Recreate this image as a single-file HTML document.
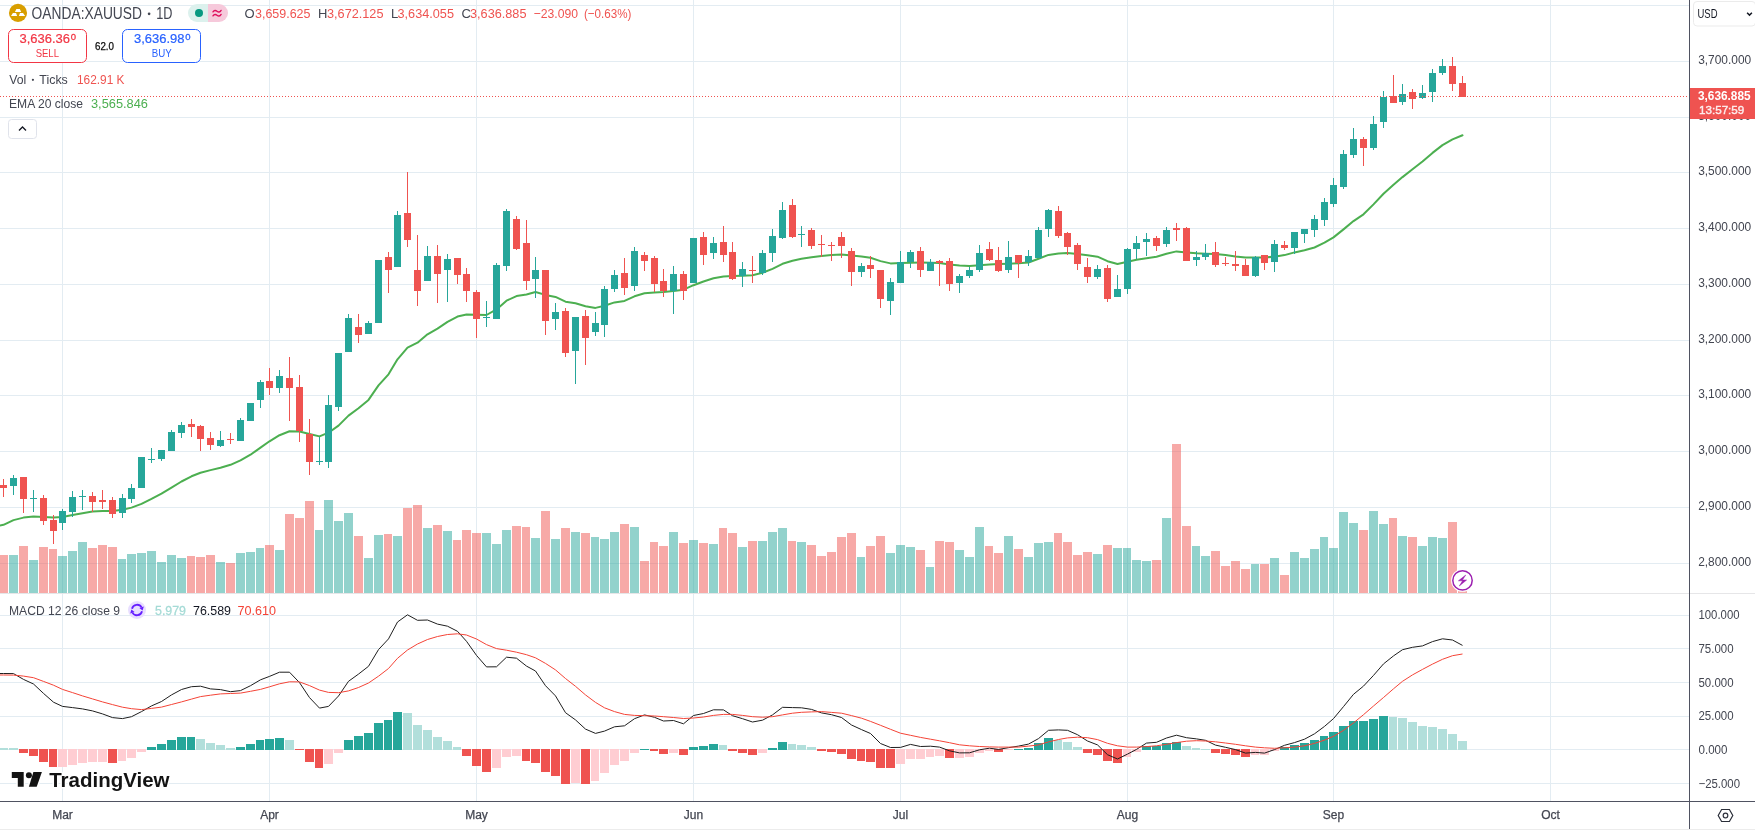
<!DOCTYPE html>
<html><head><meta charset="utf-8"><title>XAUUSD</title>
<style>html,body{margin:0;padding:0;background:#fff;width:1755px;height:830px;overflow:hidden}</style></head>
<body>
<svg width="1755" height="830" viewBox="0 0 1755 830" style="position:absolute;left:0;top:0;will-change:transform">
<g shape-rendering="crispEdges" fill="#e3ecf2">
<rect x="0" y="5" width="1689" height="1"/>
<rect x="0" y="61" width="1689" height="1"/>
<rect x="0" y="117" width="1689" height="1"/>
<rect x="0" y="172" width="1689" height="1"/>
<rect x="0" y="228" width="1689" height="1"/>
<rect x="0" y="284" width="1689" height="1"/>
<rect x="0" y="340" width="1689" height="1"/>
<rect x="0" y="395" width="1689" height="1"/>
<rect x="0" y="451" width="1689" height="1"/>
<rect x="0" y="507" width="1689" height="1"/>
<rect x="0" y="563" width="1689" height="1"/>
<rect x="0" y="615" width="1689" height="1"/>
<rect x="0" y="648" width="1689" height="1"/>
<rect x="0" y="682" width="1689" height="1"/>
<rect x="0" y="716" width="1689" height="1"/>
<rect x="0" y="749" width="1689" height="1"/>
<rect x="0" y="783" width="1689" height="1"/>
<rect x="62" y="0" width="1" height="593"/>
<rect x="62" y="594" width="1" height="207"/>
<rect x="269" y="0" width="1" height="593"/>
<rect x="269" y="594" width="1" height="207"/>
<rect x="476" y="0" width="1" height="593"/>
<rect x="476" y="594" width="1" height="207"/>
<rect x="693" y="0" width="1" height="593"/>
<rect x="693" y="594" width="1" height="207"/>
<rect x="900" y="0" width="1" height="593"/>
<rect x="900" y="594" width="1" height="207"/>
<rect x="1127" y="0" width="1" height="593"/>
<rect x="1127" y="594" width="1" height="207"/>
<rect x="1333" y="0" width="1" height="593"/>
<rect x="1333" y="594" width="1" height="207"/>
<rect x="1550" y="0" width="1" height="593"/>
<rect x="1550" y="594" width="1" height="207"/>
</g>
<g shape-rendering="crispEdges">
<rect x="-1" y="555" width="9" height="38" fill="#ef5350" fill-opacity="0.5"/>
<rect x="9" y="555" width="9" height="38" fill="#26a69a" fill-opacity="0.5"/>
<rect x="19" y="546" width="9" height="47" fill="#ef5350" fill-opacity="0.5"/>
<rect x="29" y="560" width="9" height="33" fill="#26a69a" fill-opacity="0.5"/>
<rect x="39" y="547" width="9" height="46" fill="#ef5350" fill-opacity="0.5"/>
<rect x="49" y="549" width="8" height="44" fill="#ef5350" fill-opacity="0.5"/>
<rect x="58" y="556" width="9" height="37" fill="#26a69a" fill-opacity="0.5"/>
<rect x="68" y="551" width="9" height="42" fill="#26a69a" fill-opacity="0.5"/>
<rect x="78" y="542" width="9" height="51" fill="#26a69a" fill-opacity="0.5"/>
<rect x="88" y="548" width="9" height="45" fill="#ef5350" fill-opacity="0.5"/>
<rect x="98" y="545" width="9" height="48" fill="#ef5350" fill-opacity="0.5"/>
<rect x="108" y="547" width="9" height="46" fill="#ef5350" fill-opacity="0.5"/>
<rect x="118" y="559" width="8" height="34" fill="#26a69a" fill-opacity="0.5"/>
<rect x="127" y="554" width="9" height="39" fill="#26a69a" fill-opacity="0.5"/>
<rect x="137" y="553" width="9" height="40" fill="#26a69a" fill-opacity="0.5"/>
<rect x="147" y="551" width="9" height="42" fill="#26a69a" fill-opacity="0.5"/>
<rect x="157" y="562" width="9" height="31" fill="#26a69a" fill-opacity="0.5"/>
<rect x="167" y="555" width="9" height="38" fill="#26a69a" fill-opacity="0.5"/>
<rect x="177" y="558" width="9" height="35" fill="#26a69a" fill-opacity="0.5"/>
<rect x="187" y="556" width="8" height="37" fill="#ef5350" fill-opacity="0.5"/>
<rect x="196" y="557" width="9" height="36" fill="#ef5350" fill-opacity="0.5"/>
<rect x="206" y="555" width="9" height="38" fill="#ef5350" fill-opacity="0.5"/>
<rect x="216" y="562" width="9" height="31" fill="#26a69a" fill-opacity="0.5"/>
<rect x="226" y="563" width="9" height="30" fill="#ef5350" fill-opacity="0.5"/>
<rect x="236" y="553" width="9" height="40" fill="#26a69a" fill-opacity="0.5"/>
<rect x="246" y="552" width="9" height="41" fill="#26a69a" fill-opacity="0.5"/>
<rect x="256" y="548" width="8" height="45" fill="#26a69a" fill-opacity="0.5"/>
<rect x="265" y="545" width="9" height="48" fill="#ef5350" fill-opacity="0.5"/>
<rect x="275" y="550" width="9" height="43" fill="#26a69a" fill-opacity="0.5"/>
<rect x="285" y="514" width="9" height="79" fill="#ef5350" fill-opacity="0.5"/>
<rect x="295" y="518" width="9" height="75" fill="#ef5350" fill-opacity="0.5"/>
<rect x="305" y="501" width="9" height="92" fill="#ef5350" fill-opacity="0.5"/>
<rect x="315" y="530" width="8" height="63" fill="#26a69a" fill-opacity="0.5"/>
<rect x="324" y="500" width="9" height="93" fill="#26a69a" fill-opacity="0.5"/>
<rect x="334" y="521" width="9" height="72" fill="#26a69a" fill-opacity="0.5"/>
<rect x="344" y="513" width="9" height="80" fill="#26a69a" fill-opacity="0.5"/>
<rect x="354" y="536" width="9" height="57" fill="#ef5350" fill-opacity="0.5"/>
<rect x="364" y="558" width="9" height="35" fill="#26a69a" fill-opacity="0.5"/>
<rect x="374" y="535" width="9" height="58" fill="#26a69a" fill-opacity="0.5"/>
<rect x="384" y="534" width="8" height="59" fill="#ef5350" fill-opacity="0.5"/>
<rect x="393" y="536" width="9" height="57" fill="#26a69a" fill-opacity="0.5"/>
<rect x="403" y="508" width="9" height="85" fill="#ef5350" fill-opacity="0.5"/>
<rect x="413" y="505" width="9" height="88" fill="#ef5350" fill-opacity="0.5"/>
<rect x="423" y="528" width="9" height="65" fill="#26a69a" fill-opacity="0.5"/>
<rect x="433" y="525" width="9" height="68" fill="#ef5350" fill-opacity="0.5"/>
<rect x="443" y="531" width="9" height="62" fill="#26a69a" fill-opacity="0.5"/>
<rect x="453" y="540" width="8" height="53" fill="#ef5350" fill-opacity="0.5"/>
<rect x="462" y="530" width="9" height="63" fill="#ef5350" fill-opacity="0.5"/>
<rect x="472" y="533" width="9" height="60" fill="#ef5350" fill-opacity="0.5"/>
<rect x="482" y="533" width="9" height="60" fill="#26a69a" fill-opacity="0.5"/>
<rect x="492" y="544" width="9" height="49" fill="#26a69a" fill-opacity="0.5"/>
<rect x="502" y="530" width="9" height="63" fill="#26a69a" fill-opacity="0.5"/>
<rect x="512" y="526" width="9" height="67" fill="#ef5350" fill-opacity="0.5"/>
<rect x="522" y="527" width="8" height="66" fill="#ef5350" fill-opacity="0.5"/>
<rect x="531" y="538" width="9" height="55" fill="#26a69a" fill-opacity="0.5"/>
<rect x="541" y="511" width="9" height="82" fill="#ef5350" fill-opacity="0.5"/>
<rect x="551" y="539" width="9" height="54" fill="#26a69a" fill-opacity="0.5"/>
<rect x="561" y="528" width="9" height="65" fill="#ef5350" fill-opacity="0.5"/>
<rect x="571" y="532" width="9" height="61" fill="#26a69a" fill-opacity="0.5"/>
<rect x="581" y="533" width="9" height="60" fill="#ef5350" fill-opacity="0.5"/>
<rect x="591" y="537" width="8" height="56" fill="#26a69a" fill-opacity="0.5"/>
<rect x="600" y="539" width="9" height="54" fill="#26a69a" fill-opacity="0.5"/>
<rect x="610" y="532" width="9" height="61" fill="#26a69a" fill-opacity="0.5"/>
<rect x="620" y="524" width="9" height="69" fill="#ef5350" fill-opacity="0.5"/>
<rect x="630" y="527" width="9" height="66" fill="#26a69a" fill-opacity="0.5"/>
<rect x="640" y="561" width="9" height="32" fill="#ef5350" fill-opacity="0.5"/>
<rect x="650" y="542" width="8" height="51" fill="#ef5350" fill-opacity="0.5"/>
<rect x="659" y="546" width="9" height="47" fill="#ef5350" fill-opacity="0.5"/>
<rect x="669" y="532" width="9" height="61" fill="#26a69a" fill-opacity="0.5"/>
<rect x="679" y="543" width="9" height="50" fill="#ef5350" fill-opacity="0.5"/>
<rect x="689" y="540" width="9" height="53" fill="#26a69a" fill-opacity="0.5"/>
<rect x="699" y="543" width="9" height="50" fill="#ef5350" fill-opacity="0.5"/>
<rect x="709" y="544" width="9" height="49" fill="#26a69a" fill-opacity="0.5"/>
<rect x="719" y="528" width="8" height="65" fill="#ef5350" fill-opacity="0.5"/>
<rect x="728" y="533" width="9" height="60" fill="#ef5350" fill-opacity="0.5"/>
<rect x="738" y="547" width="9" height="46" fill="#26a69a" fill-opacity="0.5"/>
<rect x="748" y="541" width="9" height="52" fill="#ef5350" fill-opacity="0.5"/>
<rect x="758" y="541" width="9" height="52" fill="#26a69a" fill-opacity="0.5"/>
<rect x="768" y="532" width="9" height="61" fill="#26a69a" fill-opacity="0.5"/>
<rect x="778" y="528" width="9" height="65" fill="#26a69a" fill-opacity="0.5"/>
<rect x="788" y="541" width="8" height="52" fill="#ef5350" fill-opacity="0.5"/>
<rect x="797" y="542" width="9" height="51" fill="#26a69a" fill-opacity="0.5"/>
<rect x="807" y="545" width="9" height="48" fill="#ef5350" fill-opacity="0.5"/>
<rect x="817" y="556" width="9" height="37" fill="#ef5350" fill-opacity="0.5"/>
<rect x="827" y="552" width="9" height="41" fill="#ef5350" fill-opacity="0.5"/>
<rect x="837" y="537" width="9" height="56" fill="#ef5350" fill-opacity="0.5"/>
<rect x="847" y="533" width="9" height="60" fill="#ef5350" fill-opacity="0.5"/>
<rect x="857" y="557" width="8" height="36" fill="#26a69a" fill-opacity="0.5"/>
<rect x="866" y="546" width="9" height="47" fill="#ef5350" fill-opacity="0.5"/>
<rect x="876" y="536" width="9" height="57" fill="#ef5350" fill-opacity="0.5"/>
<rect x="886" y="553" width="9" height="40" fill="#26a69a" fill-opacity="0.5"/>
<rect x="896" y="545" width="9" height="48" fill="#26a69a" fill-opacity="0.5"/>
<rect x="906" y="547" width="9" height="46" fill="#26a69a" fill-opacity="0.5"/>
<rect x="916" y="550" width="9" height="43" fill="#ef5350" fill-opacity="0.5"/>
<rect x="926" y="567" width="8" height="26" fill="#26a69a" fill-opacity="0.5"/>
<rect x="935" y="541" width="9" height="52" fill="#ef5350" fill-opacity="0.5"/>
<rect x="945" y="542" width="9" height="51" fill="#ef5350" fill-opacity="0.5"/>
<rect x="955" y="550" width="9" height="43" fill="#26a69a" fill-opacity="0.5"/>
<rect x="965" y="557" width="9" height="36" fill="#26a69a" fill-opacity="0.5"/>
<rect x="975" y="527" width="9" height="66" fill="#26a69a" fill-opacity="0.5"/>
<rect x="985" y="546" width="8" height="47" fill="#ef5350" fill-opacity="0.5"/>
<rect x="994" y="553" width="9" height="40" fill="#ef5350" fill-opacity="0.5"/>
<rect x="1004" y="536" width="9" height="57" fill="#26a69a" fill-opacity="0.5"/>
<rect x="1014" y="549" width="9" height="44" fill="#ef5350" fill-opacity="0.5"/>
<rect x="1024" y="557" width="9" height="36" fill="#26a69a" fill-opacity="0.5"/>
<rect x="1034" y="543" width="9" height="50" fill="#26a69a" fill-opacity="0.5"/>
<rect x="1044" y="542" width="9" height="51" fill="#26a69a" fill-opacity="0.5"/>
<rect x="1054" y="533" width="8" height="60" fill="#ef5350" fill-opacity="0.5"/>
<rect x="1063" y="542" width="9" height="51" fill="#ef5350" fill-opacity="0.5"/>
<rect x="1073" y="555" width="9" height="38" fill="#ef5350" fill-opacity="0.5"/>
<rect x="1083" y="552" width="9" height="41" fill="#ef5350" fill-opacity="0.5"/>
<rect x="1093" y="554" width="9" height="39" fill="#26a69a" fill-opacity="0.5"/>
<rect x="1103" y="545" width="9" height="48" fill="#ef5350" fill-opacity="0.5"/>
<rect x="1113" y="548" width="9" height="45" fill="#26a69a" fill-opacity="0.5"/>
<rect x="1123" y="548" width="8" height="45" fill="#26a69a" fill-opacity="0.5"/>
<rect x="1132" y="560" width="9" height="33" fill="#26a69a" fill-opacity="0.5"/>
<rect x="1142" y="561" width="9" height="32" fill="#26a69a" fill-opacity="0.5"/>
<rect x="1152" y="560" width="9" height="33" fill="#ef5350" fill-opacity="0.5"/>
<rect x="1162" y="518" width="9" height="75" fill="#26a69a" fill-opacity="0.5"/>
<rect x="1172" y="444" width="9" height="149" fill="#ef5350" fill-opacity="0.5"/>
<rect x="1182" y="526" width="9" height="67" fill="#ef5350" fill-opacity="0.5"/>
<rect x="1192" y="546" width="8" height="47" fill="#26a69a" fill-opacity="0.5"/>
<rect x="1201" y="556" width="9" height="37" fill="#26a69a" fill-opacity="0.5"/>
<rect x="1211" y="551" width="9" height="42" fill="#ef5350" fill-opacity="0.5"/>
<rect x="1221" y="566" width="9" height="27" fill="#ef5350" fill-opacity="0.5"/>
<rect x="1231" y="561" width="9" height="32" fill="#ef5350" fill-opacity="0.5"/>
<rect x="1241" y="569" width="9" height="24" fill="#ef5350" fill-opacity="0.5"/>
<rect x="1251" y="564" width="8" height="29" fill="#26a69a" fill-opacity="0.5"/>
<rect x="1260" y="564" width="9" height="29" fill="#ef5350" fill-opacity="0.5"/>
<rect x="1270" y="558" width="9" height="35" fill="#26a69a" fill-opacity="0.5"/>
<rect x="1280" y="575" width="9" height="18" fill="#ef5350" fill-opacity="0.5"/>
<rect x="1290" y="552" width="9" height="41" fill="#26a69a" fill-opacity="0.5"/>
<rect x="1300" y="558" width="9" height="35" fill="#26a69a" fill-opacity="0.5"/>
<rect x="1310" y="549" width="9" height="44" fill="#26a69a" fill-opacity="0.5"/>
<rect x="1320" y="537" width="8" height="56" fill="#26a69a" fill-opacity="0.5"/>
<rect x="1329" y="548" width="9" height="45" fill="#26a69a" fill-opacity="0.5"/>
<rect x="1339" y="512" width="9" height="81" fill="#26a69a" fill-opacity="0.5"/>
<rect x="1349" y="523" width="9" height="70" fill="#26a69a" fill-opacity="0.5"/>
<rect x="1359" y="530" width="9" height="63" fill="#ef5350" fill-opacity="0.5"/>
<rect x="1369" y="511" width="9" height="82" fill="#26a69a" fill-opacity="0.5"/>
<rect x="1379" y="524" width="9" height="69" fill="#26a69a" fill-opacity="0.5"/>
<rect x="1389" y="518" width="8" height="75" fill="#ef5350" fill-opacity="0.5"/>
<rect x="1398" y="536" width="9" height="57" fill="#26a69a" fill-opacity="0.5"/>
<rect x="1408" y="537" width="9" height="56" fill="#ef5350" fill-opacity="0.5"/>
<rect x="1418" y="546" width="9" height="47" fill="#26a69a" fill-opacity="0.5"/>
<rect x="1428" y="537" width="9" height="56" fill="#26a69a" fill-opacity="0.5"/>
<rect x="1438" y="538" width="9" height="55" fill="#26a69a" fill-opacity="0.5"/>
<rect x="1448" y="522" width="9" height="71" fill="#ef5350" fill-opacity="0.5"/>
<rect x="1458" y="591" width="9" height="2" fill="#ef5350" fill-opacity="0.5"/>
</g>
<polyline points="-6.5,527.0 3.5,524.8 13.5,520.1 23.5,517.6 33.5,516.6 43.5,517.1 53.5,517.6 62.5,516.9 72.5,514.9 82.5,513.2 92.5,511.6 102.5,511.0 112.5,511.0 122.5,509.7 131.5,507.6 141.5,503.9 151.5,498.9 161.5,493.6 171.5,487.7 181.5,481.5 191.5,476.3 200.5,472.8 210.5,470.1 220.5,467.8 230.5,464.8 240.5,460.3 250.5,454.7 260.5,447.6 269.5,441.3 279.5,435.2 289.5,431.3 299.5,431.5 309.5,434.0 319.5,436.4 328.5,432.7 338.5,425.6 348.5,415.6 358.5,408.3 368.5,399.9 378.5,385.4 388.5,374.3 397.5,359.3 407.5,347.7 417.5,342.7 427.5,334.3 437.5,328.6 447.5,321.9 457.5,316.6 466.5,314.6 476.5,314.8 486.5,315.0 496.5,309.4 506.5,300.7 516.5,296.1 526.5,294.5 535.5,292.0 545.5,294.9 555.5,296.9 565.5,301.7 575.5,303.3 585.5,306.3 595.5,307.9 604.5,305.8 614.5,302.4 624.5,300.9 634.5,296.3 644.5,293.3 654.5,292.6 663.5,292.0 673.5,291.1 683.5,289.7 693.5,285.2 703.5,281.5 713.5,278.3 723.5,276.4 732.5,276.0 742.5,275.7 752.5,275.2 762.5,272.8 772.5,268.9 782.5,263.8 792.5,260.7 801.5,258.7 811.5,257.2 821.5,256.1 831.5,255.0 841.5,254.4 851.5,255.5 861.5,256.5 870.5,257.7 880.5,261.1 890.5,263.4 900.5,263.0 910.5,262.7 920.5,262.6 930.5,262.7 939.5,263.0 949.5,264.4 959.5,265.5 969.5,266.0 979.5,265.3 989.5,264.5 998.5,264.1 1008.5,263.8 1018.5,263.3 1028.5,262.5 1038.5,258.7 1048.5,254.9 1058.5,253.4 1067.5,253.0 1077.5,254.1 1087.5,255.2 1097.5,256.7 1107.5,261.2 1117.5,264.0 1127.5,261.8 1136.5,259.8 1146.5,258.3 1156.5,256.7 1166.5,253.8 1176.5,251.4 1186.5,252.4 1196.5,253.3 1205.5,253.7 1215.5,254.1 1225.5,255.0 1235.5,256.6 1245.5,257.6 1255.5,257.5 1264.5,257.4 1274.5,256.7 1284.5,255.1 1294.5,252.4 1304.5,250.2 1314.5,247.5 1324.5,242.7 1333.5,237.4 1343.5,229.4 1353.5,221.1 1363.5,214.3 1373.5,204.4 1383.5,193.8 1393.5,184.7 1402.5,177.1 1412.5,169.3 1422.5,161.5 1432.5,152.9 1442.5,145.1 1452.5,139.4 1462.5,135.3" fill="none" stroke="#4caf50" stroke-width="2" stroke-linejoin="round" stroke-linecap="round"/>
<g shape-rendering="crispEdges">
<rect x="3" y="479" width="1" height="18" fill="#ef5350"/>
<rect x="0" y="485" width="7" height="3" fill="#ef5350"/>
<rect x="13" y="475" width="1" height="20" fill="#26a69a"/>
<rect x="10" y="478" width="7" height="8" fill="#26a69a"/>
<rect x="23" y="477" width="1" height="36" fill="#ef5350"/>
<rect x="20" y="477" width="7" height="22" fill="#ef5350"/>
<rect x="33" y="490" width="1" height="22" fill="#26a69a"/>
<rect x="30" y="498" width="7" height="1" fill="#26a69a"/>
<rect x="43" y="495" width="1" height="30" fill="#ef5350"/>
<rect x="40" y="498" width="7" height="23" fill="#ef5350"/>
<rect x="53" y="515" width="1" height="29" fill="#ef5350"/>
<rect x="50" y="520" width="7" height="11" fill="#ef5350"/>
<rect x="62" y="509" width="1" height="21" fill="#26a69a"/>
<rect x="59" y="511" width="7" height="12" fill="#26a69a"/>
<rect x="72" y="491" width="1" height="26" fill="#26a69a"/>
<rect x="69" y="497" width="7" height="15" fill="#26a69a"/>
<rect x="82" y="490" width="1" height="20" fill="#26a69a"/>
<rect x="79" y="496" width="7" height="1" fill="#26a69a"/>
<rect x="92" y="492" width="1" height="20" fill="#ef5350"/>
<rect x="89" y="496" width="7" height="6" fill="#ef5350"/>
<rect x="102" y="490" width="1" height="19" fill="#ef5350"/>
<rect x="99" y="500" width="7" height="2" fill="#ef5350"/>
<rect x="112" y="497" width="1" height="21" fill="#ef5350"/>
<rect x="109" y="500" width="7" height="14" fill="#ef5350"/>
<rect x="122" y="494" width="1" height="24" fill="#26a69a"/>
<rect x="119" y="498" width="7" height="15" fill="#26a69a"/>
<rect x="131" y="484" width="1" height="19" fill="#26a69a"/>
<rect x="128" y="488" width="7" height="11" fill="#26a69a"/>
<rect x="141" y="457" width="1" height="31" fill="#26a69a"/>
<rect x="138" y="457" width="7" height="31" fill="#26a69a"/>
<rect x="151" y="448" width="1" height="15" fill="#26a69a"/>
<rect x="148" y="459" width="7" height="1" fill="#26a69a"/>
<rect x="161" y="450" width="1" height="11" fill="#26a69a"/>
<rect x="158" y="450" width="7" height="9" fill="#26a69a"/>
<rect x="171" y="430" width="1" height="21" fill="#26a69a"/>
<rect x="168" y="432" width="7" height="19" fill="#26a69a"/>
<rect x="181" y="422" width="1" height="16" fill="#26a69a"/>
<rect x="178" y="425" width="7" height="8" fill="#26a69a"/>
<rect x="191" y="419" width="1" height="18" fill="#ef5350"/>
<rect x="188" y="424" width="7" height="3" fill="#ef5350"/>
<rect x="200" y="425" width="1" height="26" fill="#ef5350"/>
<rect x="197" y="426" width="7" height="13" fill="#ef5350"/>
<rect x="210" y="432" width="1" height="18" fill="#ef5350"/>
<rect x="207" y="438" width="7" height="7" fill="#ef5350"/>
<rect x="220" y="431" width="1" height="16" fill="#26a69a"/>
<rect x="217" y="440" width="7" height="6" fill="#26a69a"/>
<rect x="230" y="433" width="1" height="11" fill="#ef5350"/>
<rect x="227" y="439" width="7" height="1" fill="#ef5350"/>
<rect x="240" y="418" width="1" height="23" fill="#26a69a"/>
<rect x="237" y="420" width="7" height="21" fill="#26a69a"/>
<rect x="250" y="403" width="1" height="18" fill="#26a69a"/>
<rect x="247" y="403" width="7" height="18" fill="#26a69a"/>
<rect x="260" y="380" width="1" height="28" fill="#26a69a"/>
<rect x="257" y="382" width="7" height="18" fill="#26a69a"/>
<rect x="269" y="368" width="1" height="27" fill="#ef5350"/>
<rect x="266" y="381" width="7" height="7" fill="#ef5350"/>
<rect x="279" y="370" width="1" height="23" fill="#26a69a"/>
<rect x="276" y="376" width="7" height="12" fill="#26a69a"/>
<rect x="289" y="357" width="1" height="64" fill="#ef5350"/>
<rect x="286" y="378" width="7" height="10" fill="#ef5350"/>
<rect x="299" y="375" width="1" height="67" fill="#ef5350"/>
<rect x="296" y="387" width="7" height="44" fill="#ef5350"/>
<rect x="309" y="419" width="1" height="56" fill="#ef5350"/>
<rect x="306" y="434" width="7" height="28" fill="#ef5350"/>
<rect x="319" y="437" width="1" height="28" fill="#26a69a"/>
<rect x="316" y="461" width="7" height="1" fill="#26a69a"/>
<rect x="328" y="395" width="1" height="73" fill="#26a69a"/>
<rect x="325" y="405" width="7" height="57" fill="#26a69a"/>
<rect x="338" y="353" width="1" height="58" fill="#26a69a"/>
<rect x="335" y="353" width="7" height="54" fill="#26a69a"/>
<rect x="348" y="314" width="1" height="38" fill="#26a69a"/>
<rect x="345" y="318" width="7" height="34" fill="#26a69a"/>
<rect x="358" y="314" width="1" height="29" fill="#ef5350"/>
<rect x="355" y="327" width="7" height="8" fill="#ef5350"/>
<rect x="368" y="321" width="1" height="13" fill="#26a69a"/>
<rect x="365" y="323" width="7" height="11" fill="#26a69a"/>
<rect x="378" y="260" width="1" height="63" fill="#26a69a"/>
<rect x="375" y="260" width="7" height="63" fill="#26a69a"/>
<rect x="388" y="252" width="1" height="41" fill="#ef5350"/>
<rect x="385" y="257" width="7" height="13" fill="#ef5350"/>
<rect x="397" y="211" width="1" height="56" fill="#26a69a"/>
<rect x="394" y="215" width="7" height="52" fill="#26a69a"/>
<rect x="407" y="172" width="1" height="75" fill="#ef5350"/>
<rect x="404" y="213" width="7" height="27" fill="#ef5350"/>
<rect x="417" y="235" width="1" height="71" fill="#ef5350"/>
<rect x="414" y="270" width="7" height="21" fill="#ef5350"/>
<rect x="427" y="246" width="1" height="35" fill="#26a69a"/>
<rect x="424" y="256" width="7" height="25" fill="#26a69a"/>
<rect x="437" y="245" width="1" height="58" fill="#ef5350"/>
<rect x="434" y="256" width="7" height="18" fill="#ef5350"/>
<rect x="447" y="254" width="1" height="48" fill="#26a69a"/>
<rect x="444" y="259" width="7" height="11" fill="#26a69a"/>
<rect x="457" y="258" width="1" height="26" fill="#ef5350"/>
<rect x="454" y="258" width="7" height="17" fill="#ef5350"/>
<rect x="466" y="268" width="1" height="34" fill="#ef5350"/>
<rect x="463" y="274" width="7" height="17" fill="#ef5350"/>
<rect x="476" y="290" width="1" height="48" fill="#ef5350"/>
<rect x="473" y="292" width="7" height="27" fill="#ef5350"/>
<rect x="486" y="301" width="1" height="26" fill="#26a69a"/>
<rect x="483" y="317" width="7" height="1" fill="#26a69a"/>
<rect x="496" y="263" width="1" height="56" fill="#26a69a"/>
<rect x="493" y="265" width="7" height="54" fill="#26a69a"/>
<rect x="506" y="209" width="1" height="62" fill="#26a69a"/>
<rect x="503" y="211" width="7" height="55" fill="#26a69a"/>
<rect x="516" y="216" width="1" height="34" fill="#ef5350"/>
<rect x="513" y="219" width="7" height="30" fill="#ef5350"/>
<rect x="526" y="220" width="1" height="70" fill="#ef5350"/>
<rect x="523" y="243" width="7" height="38" fill="#ef5350"/>
<rect x="535" y="257" width="1" height="41" fill="#26a69a"/>
<rect x="532" y="270" width="7" height="9" fill="#26a69a"/>
<rect x="545" y="270" width="1" height="65" fill="#ef5350"/>
<rect x="542" y="270" width="7" height="51" fill="#ef5350"/>
<rect x="555" y="303" width="1" height="27" fill="#26a69a"/>
<rect x="552" y="312" width="7" height="7" fill="#26a69a"/>
<rect x="565" y="308" width="1" height="49" fill="#ef5350"/>
<rect x="562" y="311" width="7" height="42" fill="#ef5350"/>
<rect x="575" y="317" width="1" height="67" fill="#26a69a"/>
<rect x="572" y="317" width="7" height="34" fill="#26a69a"/>
<rect x="585" y="310" width="1" height="55" fill="#ef5350"/>
<rect x="582" y="316" width="7" height="22" fill="#ef5350"/>
<rect x="595" y="312" width="1" height="24" fill="#26a69a"/>
<rect x="592" y="323" width="7" height="9" fill="#26a69a"/>
<rect x="604" y="286" width="1" height="51" fill="#26a69a"/>
<rect x="601" y="289" width="7" height="36" fill="#26a69a"/>
<rect x="614" y="270" width="1" height="22" fill="#26a69a"/>
<rect x="611" y="275" width="7" height="14" fill="#26a69a"/>
<rect x="624" y="258" width="1" height="37" fill="#ef5350"/>
<rect x="621" y="273" width="7" height="15" fill="#ef5350"/>
<rect x="634" y="247" width="1" height="44" fill="#26a69a"/>
<rect x="631" y="251" width="7" height="35" fill="#26a69a"/>
<rect x="644" y="252" width="1" height="19" fill="#ef5350"/>
<rect x="641" y="255" width="7" height="6" fill="#ef5350"/>
<rect x="654" y="256" width="1" height="36" fill="#ef5350"/>
<rect x="651" y="258" width="7" height="26" fill="#ef5350"/>
<rect x="663" y="269" width="1" height="28" fill="#ef5350"/>
<rect x="660" y="281" width="7" height="10" fill="#ef5350"/>
<rect x="673" y="266" width="1" height="48" fill="#26a69a"/>
<rect x="670" y="274" width="7" height="17" fill="#26a69a"/>
<rect x="683" y="271" width="1" height="29" fill="#ef5350"/>
<rect x="680" y="274" width="7" height="17" fill="#ef5350"/>
<rect x="693" y="238" width="1" height="45" fill="#26a69a"/>
<rect x="690" y="238" width="7" height="45" fill="#26a69a"/>
<rect x="703" y="232" width="1" height="33" fill="#ef5350"/>
<rect x="700" y="237" width="7" height="18" fill="#ef5350"/>
<rect x="713" y="237" width="1" height="22" fill="#26a69a"/>
<rect x="710" y="243" width="7" height="10" fill="#26a69a"/>
<rect x="723" y="226" width="1" height="36" fill="#ef5350"/>
<rect x="720" y="242" width="7" height="13" fill="#ef5350"/>
<rect x="732" y="242" width="1" height="38" fill="#ef5350"/>
<rect x="729" y="252" width="7" height="27" fill="#ef5350"/>
<rect x="742" y="262" width="1" height="25" fill="#26a69a"/>
<rect x="739" y="269" width="7" height="7" fill="#26a69a"/>
<rect x="752" y="256" width="1" height="27" fill="#ef5350"/>
<rect x="749" y="270" width="7" height="1" fill="#ef5350"/>
<rect x="762" y="250" width="1" height="25" fill="#26a69a"/>
<rect x="759" y="253" width="7" height="20" fill="#26a69a"/>
<rect x="772" y="229" width="1" height="33" fill="#26a69a"/>
<rect x="769" y="236" width="7" height="17" fill="#26a69a"/>
<rect x="782" y="202" width="1" height="37" fill="#26a69a"/>
<rect x="779" y="210" width="7" height="28" fill="#26a69a"/>
<rect x="792" y="199" width="1" height="39" fill="#ef5350"/>
<rect x="789" y="205" width="7" height="32" fill="#ef5350"/>
<rect x="801" y="226" width="1" height="21" fill="#26a69a"/>
<rect x="798" y="234" width="7" height="1" fill="#26a69a"/>
<rect x="811" y="228" width="1" height="21" fill="#ef5350"/>
<rect x="808" y="230" width="7" height="16" fill="#ef5350"/>
<rect x="821" y="235" width="1" height="22" fill="#ef5350"/>
<rect x="818" y="244" width="7" height="1" fill="#ef5350"/>
<rect x="831" y="242" width="1" height="19" fill="#ef5350"/>
<rect x="828" y="245" width="7" height="1" fill="#ef5350"/>
<rect x="841" y="232" width="1" height="26" fill="#ef5350"/>
<rect x="838" y="237" width="7" height="9" fill="#ef5350"/>
<rect x="851" y="248" width="1" height="38" fill="#ef5350"/>
<rect x="848" y="251" width="7" height="21" fill="#ef5350"/>
<rect x="861" y="263" width="1" height="14" fill="#26a69a"/>
<rect x="858" y="266" width="7" height="6" fill="#26a69a"/>
<rect x="870" y="256" width="1" height="22" fill="#ef5350"/>
<rect x="867" y="265" width="7" height="4" fill="#ef5350"/>
<rect x="880" y="270" width="1" height="38" fill="#ef5350"/>
<rect x="877" y="270" width="7" height="29" fill="#ef5350"/>
<rect x="890" y="278" width="1" height="37" fill="#26a69a"/>
<rect x="887" y="282" width="7" height="19" fill="#26a69a"/>
<rect x="900" y="251" width="1" height="32" fill="#26a69a"/>
<rect x="897" y="262" width="7" height="21" fill="#26a69a"/>
<rect x="910" y="250" width="1" height="18" fill="#26a69a"/>
<rect x="907" y="252" width="7" height="10" fill="#26a69a"/>
<rect x="920" y="247" width="1" height="30" fill="#ef5350"/>
<rect x="917" y="251" width="7" height="19" fill="#ef5350"/>
<rect x="930" y="259" width="1" height="12" fill="#26a69a"/>
<rect x="927" y="262" width="7" height="9" fill="#26a69a"/>
<rect x="939" y="260" width="1" height="26" fill="#ef5350"/>
<rect x="936" y="261" width="7" height="2" fill="#ef5350"/>
<rect x="949" y="258" width="1" height="33" fill="#ef5350"/>
<rect x="946" y="261" width="7" height="23" fill="#ef5350"/>
<rect x="959" y="274" width="1" height="19" fill="#26a69a"/>
<rect x="956" y="276" width="7" height="7" fill="#26a69a"/>
<rect x="969" y="267" width="1" height="11" fill="#26a69a"/>
<rect x="966" y="270" width="7" height="6" fill="#26a69a"/>
<rect x="979" y="245" width="1" height="27" fill="#26a69a"/>
<rect x="976" y="253" width="7" height="17" fill="#26a69a"/>
<rect x="989" y="242" width="1" height="19" fill="#ef5350"/>
<rect x="986" y="249" width="7" height="11" fill="#ef5350"/>
<rect x="998" y="247" width="1" height="25" fill="#ef5350"/>
<rect x="995" y="260" width="7" height="11" fill="#ef5350"/>
<rect x="1008" y="241" width="1" height="32" fill="#26a69a"/>
<rect x="1005" y="257" width="7" height="13" fill="#26a69a"/>
<rect x="1018" y="255" width="1" height="23" fill="#ef5350"/>
<rect x="1015" y="255" width="7" height="8" fill="#ef5350"/>
<rect x="1028" y="250" width="1" height="16" fill="#26a69a"/>
<rect x="1025" y="256" width="7" height="6" fill="#26a69a"/>
<rect x="1038" y="227" width="1" height="31" fill="#26a69a"/>
<rect x="1035" y="230" width="7" height="28" fill="#26a69a"/>
<rect x="1048" y="209" width="1" height="28" fill="#26a69a"/>
<rect x="1045" y="210" width="7" height="19" fill="#26a69a"/>
<rect x="1058" y="206" width="1" height="32" fill="#ef5350"/>
<rect x="1055" y="211" width="7" height="25" fill="#ef5350"/>
<rect x="1067" y="232" width="1" height="23" fill="#ef5350"/>
<rect x="1064" y="233" width="7" height="14" fill="#ef5350"/>
<rect x="1077" y="243" width="1" height="27" fill="#ef5350"/>
<rect x="1074" y="245" width="7" height="19" fill="#ef5350"/>
<rect x="1087" y="258" width="1" height="25" fill="#ef5350"/>
<rect x="1084" y="267" width="7" height="10" fill="#ef5350"/>
<rect x="1097" y="265" width="1" height="14" fill="#26a69a"/>
<rect x="1094" y="269" width="7" height="8" fill="#26a69a"/>
<rect x="1107" y="265" width="1" height="37" fill="#ef5350"/>
<rect x="1104" y="268" width="7" height="31" fill="#ef5350"/>
<rect x="1117" y="275" width="1" height="22" fill="#26a69a"/>
<rect x="1114" y="289" width="7" height="8" fill="#26a69a"/>
<rect x="1127" y="248" width="1" height="46" fill="#26a69a"/>
<rect x="1124" y="249" width="7" height="40" fill="#26a69a"/>
<rect x="1136" y="236" width="1" height="23" fill="#26a69a"/>
<rect x="1133" y="243" width="7" height="6" fill="#26a69a"/>
<rect x="1146" y="233" width="1" height="23" fill="#26a69a"/>
<rect x="1143" y="239" width="7" height="3" fill="#26a69a"/>
<rect x="1156" y="236" width="1" height="15" fill="#ef5350"/>
<rect x="1153" y="238" width="7" height="8" fill="#ef5350"/>
<rect x="1166" y="227" width="1" height="20" fill="#26a69a"/>
<rect x="1163" y="230" width="7" height="14" fill="#26a69a"/>
<rect x="1176" y="223" width="1" height="18" fill="#ef5350"/>
<rect x="1173" y="228" width="7" height="2" fill="#ef5350"/>
<rect x="1186" y="227" width="1" height="34" fill="#ef5350"/>
<rect x="1183" y="228" width="7" height="33" fill="#ef5350"/>
<rect x="1196" y="251" width="1" height="15" fill="#26a69a"/>
<rect x="1193" y="257" width="7" height="3" fill="#26a69a"/>
<rect x="1205" y="244" width="1" height="16" fill="#26a69a"/>
<rect x="1202" y="253" width="7" height="4" fill="#26a69a"/>
<rect x="1215" y="242" width="1" height="25" fill="#ef5350"/>
<rect x="1212" y="252" width="7" height="13" fill="#ef5350"/>
<rect x="1225" y="257" width="1" height="9" fill="#ef5350"/>
<rect x="1222" y="263" width="7" height="1" fill="#ef5350"/>
<rect x="1235" y="251" width="1" height="20" fill="#ef5350"/>
<rect x="1232" y="264" width="7" height="2" fill="#ef5350"/>
<rect x="1245" y="259" width="1" height="17" fill="#ef5350"/>
<rect x="1242" y="265" width="7" height="11" fill="#ef5350"/>
<rect x="1255" y="256" width="1" height="21" fill="#26a69a"/>
<rect x="1252" y="257" width="7" height="19" fill="#26a69a"/>
<rect x="1264" y="255" width="1" height="15" fill="#ef5350"/>
<rect x="1261" y="255" width="7" height="8" fill="#ef5350"/>
<rect x="1274" y="240" width="1" height="32" fill="#26a69a"/>
<rect x="1271" y="244" width="7" height="18" fill="#26a69a"/>
<rect x="1284" y="241" width="1" height="9" fill="#ef5350"/>
<rect x="1281" y="245" width="7" height="3" fill="#ef5350"/>
<rect x="1294" y="232" width="1" height="22" fill="#26a69a"/>
<rect x="1291" y="232" width="7" height="16" fill="#26a69a"/>
<rect x="1304" y="229" width="1" height="14" fill="#26a69a"/>
<rect x="1301" y="229" width="7" height="5" fill="#26a69a"/>
<rect x="1314" y="215" width="1" height="22" fill="#26a69a"/>
<rect x="1311" y="219" width="7" height="11" fill="#26a69a"/>
<rect x="1324" y="198" width="1" height="28" fill="#26a69a"/>
<rect x="1321" y="202" width="7" height="18" fill="#26a69a"/>
<rect x="1333" y="178" width="1" height="29" fill="#26a69a"/>
<rect x="1330" y="185" width="7" height="19" fill="#26a69a"/>
<rect x="1343" y="150" width="1" height="39" fill="#26a69a"/>
<rect x="1340" y="154" width="7" height="33" fill="#26a69a"/>
<rect x="1353" y="128" width="1" height="30" fill="#26a69a"/>
<rect x="1350" y="139" width="7" height="16" fill="#26a69a"/>
<rect x="1363" y="137" width="1" height="29" fill="#ef5350"/>
<rect x="1360" y="139" width="7" height="9" fill="#ef5350"/>
<rect x="1373" y="116" width="1" height="34" fill="#26a69a"/>
<rect x="1370" y="124" width="7" height="24" fill="#26a69a"/>
<rect x="1383" y="91" width="1" height="37" fill="#26a69a"/>
<rect x="1380" y="97" width="7" height="25" fill="#26a69a"/>
<rect x="1393" y="75" width="1" height="28" fill="#ef5350"/>
<rect x="1390" y="96" width="7" height="7" fill="#ef5350"/>
<rect x="1402" y="84" width="1" height="21" fill="#26a69a"/>
<rect x="1399" y="94" width="7" height="8" fill="#26a69a"/>
<rect x="1412" y="89" width="1" height="20" fill="#ef5350"/>
<rect x="1409" y="92" width="7" height="7" fill="#ef5350"/>
<rect x="1422" y="85" width="1" height="14" fill="#26a69a"/>
<rect x="1419" y="93" width="7" height="5" fill="#26a69a"/>
<rect x="1432" y="69" width="1" height="33" fill="#26a69a"/>
<rect x="1429" y="73" width="7" height="19" fill="#26a69a"/>
<rect x="1442" y="59" width="1" height="16" fill="#26a69a"/>
<rect x="1439" y="66" width="7" height="7" fill="#26a69a"/>
<rect x="1452" y="57" width="1" height="34" fill="#ef5350"/>
<rect x="1449" y="66" width="7" height="18" fill="#ef5350"/>
<rect x="1462" y="76" width="1" height="21" fill="#ef5350"/>
<rect x="1459" y="83" width="7" height="14" fill="#ef5350"/>
</g>
<line x1="0" y1="96.5" x2="1689" y2="96.5" stroke="#ef5350" stroke-width="1" stroke-dasharray="1 2" shape-rendering="crispEdges"/>
<g shape-rendering="crispEdges">
<rect x="-1" y="748" width="9" height="2" fill="#b2dfdb"/>
<rect x="9" y="748" width="9" height="2" fill="#b2dfdb"/>
<rect x="19" y="749" width="9" height="4" fill="#ef5350"/>
<rect x="29" y="749" width="9" height="7" fill="#ef5350"/>
<rect x="39" y="749" width="9" height="13" fill="#ef5350"/>
<rect x="49" y="749" width="8" height="18" fill="#ef5350"/>
<rect x="58" y="749" width="9" height="18" fill="#ffcdd2"/>
<rect x="68" y="749" width="9" height="16" fill="#ffcdd2"/>
<rect x="78" y="749" width="9" height="14" fill="#ffcdd2"/>
<rect x="88" y="749" width="9" height="13" fill="#ffcdd2"/>
<rect x="98" y="749" width="9" height="13" fill="#ffcdd2"/>
<rect x="108" y="749" width="9" height="14" fill="#ef5350"/>
<rect x="118" y="749" width="8" height="12" fill="#ffcdd2"/>
<rect x="127" y="749" width="9" height="9" fill="#ffcdd2"/>
<rect x="137" y="749" width="9" height="3" fill="#ffcdd2"/>
<rect x="147" y="747" width="9" height="3" fill="#26a69a"/>
<rect x="157" y="744" width="9" height="6" fill="#26a69a"/>
<rect x="167" y="740" width="9" height="10" fill="#26a69a"/>
<rect x="177" y="737" width="9" height="13" fill="#26a69a"/>
<rect x="187" y="737" width="8" height="13" fill="#26a69a"/>
<rect x="196" y="739" width="9" height="11" fill="#b2dfdb"/>
<rect x="206" y="743" width="9" height="7" fill="#b2dfdb"/>
<rect x="216" y="745" width="9" height="5" fill="#b2dfdb"/>
<rect x="226" y="748" width="9" height="2" fill="#b2dfdb"/>
<rect x="236" y="747" width="9" height="3" fill="#26a69a"/>
<rect x="246" y="744" width="9" height="6" fill="#26a69a"/>
<rect x="256" y="740" width="8" height="10" fill="#26a69a"/>
<rect x="265" y="739" width="9" height="11" fill="#26a69a"/>
<rect x="275" y="738" width="9" height="12" fill="#26a69a"/>
<rect x="285" y="740" width="9" height="10" fill="#b2dfdb"/>
<rect x="295" y="749" width="9" height="1" fill="#ef5350"/>
<rect x="305" y="749" width="9" height="13" fill="#ef5350"/>
<rect x="315" y="749" width="8" height="19" fill="#ef5350"/>
<rect x="324" y="749" width="9" height="15" fill="#ffcdd2"/>
<rect x="334" y="749" width="9" height="4" fill="#ffcdd2"/>
<rect x="344" y="740" width="9" height="10" fill="#26a69a"/>
<rect x="354" y="736" width="9" height="14" fill="#26a69a"/>
<rect x="364" y="733" width="9" height="17" fill="#26a69a"/>
<rect x="374" y="723" width="9" height="27" fill="#26a69a"/>
<rect x="384" y="720" width="8" height="30" fill="#26a69a"/>
<rect x="393" y="712" width="9" height="38" fill="#26a69a"/>
<rect x="403" y="713" width="9" height="37" fill="#b2dfdb"/>
<rect x="413" y="725" width="9" height="25" fill="#b2dfdb"/>
<rect x="423" y="730" width="9" height="20" fill="#b2dfdb"/>
<rect x="433" y="737" width="9" height="13" fill="#b2dfdb"/>
<rect x="443" y="741" width="9" height="9" fill="#b2dfdb"/>
<rect x="453" y="747" width="8" height="3" fill="#b2dfdb"/>
<rect x="462" y="749" width="9" height="7" fill="#ef5350"/>
<rect x="472" y="749" width="9" height="17" fill="#ef5350"/>
<rect x="482" y="749" width="9" height="23" fill="#ef5350"/>
<rect x="492" y="749" width="9" height="19" fill="#ffcdd2"/>
<rect x="502" y="749" width="9" height="8" fill="#ffcdd2"/>
<rect x="512" y="749" width="9" height="7" fill="#ffcdd2"/>
<rect x="522" y="749" width="8" height="12" fill="#ef5350"/>
<rect x="531" y="749" width="9" height="14" fill="#ef5350"/>
<rect x="541" y="749" width="9" height="23" fill="#ef5350"/>
<rect x="551" y="749" width="9" height="27" fill="#ef5350"/>
<rect x="561" y="749" width="9" height="35" fill="#ef5350"/>
<rect x="571" y="749" width="9" height="34" fill="#ffcdd2"/>
<rect x="581" y="749" width="9" height="35" fill="#ef5350"/>
<rect x="591" y="749" width="8" height="32" fill="#ffcdd2"/>
<rect x="600" y="749" width="9" height="24" fill="#ffcdd2"/>
<rect x="610" y="749" width="9" height="16" fill="#ffcdd2"/>
<rect x="620" y="749" width="9" height="12" fill="#ffcdd2"/>
<rect x="630" y="749" width="9" height="4" fill="#ffcdd2"/>
<rect x="640" y="749" width="9" height="1" fill="#26a69a"/>
<rect x="650" y="749" width="8" height="2" fill="#ef5350"/>
<rect x="659" y="749" width="9" height="5" fill="#ef5350"/>
<rect x="669" y="749" width="9" height="4" fill="#ffcdd2"/>
<rect x="679" y="749" width="9" height="6" fill="#ef5350"/>
<rect x="689" y="747" width="9" height="3" fill="#26a69a"/>
<rect x="699" y="746" width="9" height="4" fill="#26a69a"/>
<rect x="709" y="744" width="9" height="6" fill="#26a69a"/>
<rect x="719" y="745" width="8" height="5" fill="#b2dfdb"/>
<rect x="728" y="749" width="9" height="2" fill="#ef5350"/>
<rect x="738" y="749" width="9" height="4" fill="#ef5350"/>
<rect x="748" y="749" width="9" height="6" fill="#ef5350"/>
<rect x="758" y="749" width="9" height="4" fill="#ffcdd2"/>
<rect x="768" y="748" width="9" height="2" fill="#26a69a"/>
<rect x="778" y="742" width="9" height="8" fill="#26a69a"/>
<rect x="788" y="744" width="8" height="6" fill="#b2dfdb"/>
<rect x="797" y="745" width="9" height="5" fill="#b2dfdb"/>
<rect x="807" y="747" width="9" height="3" fill="#b2dfdb"/>
<rect x="817" y="749" width="9" height="2" fill="#ef5350"/>
<rect x="827" y="749" width="9" height="3" fill="#ef5350"/>
<rect x="837" y="749" width="9" height="5" fill="#ef5350"/>
<rect x="847" y="749" width="9" height="10" fill="#ef5350"/>
<rect x="857" y="749" width="8" height="12" fill="#ef5350"/>
<rect x="866" y="749" width="9" height="13" fill="#ef5350"/>
<rect x="876" y="749" width="9" height="19" fill="#ef5350"/>
<rect x="886" y="749" width="9" height="19" fill="#ef5350"/>
<rect x="896" y="749" width="9" height="15" fill="#ffcdd2"/>
<rect x="906" y="749" width="9" height="10" fill="#ffcdd2"/>
<rect x="916" y="749" width="9" height="10" fill="#ffcdd2"/>
<rect x="926" y="749" width="8" height="8" fill="#ffcdd2"/>
<rect x="935" y="749" width="9" height="7" fill="#ffcdd2"/>
<rect x="945" y="749" width="9" height="9" fill="#ef5350"/>
<rect x="955" y="749" width="9" height="9" fill="#ffcdd2"/>
<rect x="965" y="749" width="9" height="8" fill="#ffcdd2"/>
<rect x="975" y="749" width="9" height="4" fill="#ffcdd2"/>
<rect x="985" y="749" width="8" height="2" fill="#ffcdd2"/>
<rect x="994" y="749" width="9" height="3" fill="#ef5350"/>
<rect x="1004" y="749" width="9" height="1" fill="#ffcdd2"/>
<rect x="1014" y="749" width="9" height="1" fill="#26a69a"/>
<rect x="1024" y="748" width="9" height="2" fill="#26a69a"/>
<rect x="1034" y="743" width="9" height="7" fill="#26a69a"/>
<rect x="1044" y="738" width="9" height="12" fill="#26a69a"/>
<rect x="1054" y="740" width="8" height="10" fill="#b2dfdb"/>
<rect x="1063" y="742" width="9" height="8" fill="#b2dfdb"/>
<rect x="1073" y="747" width="9" height="3" fill="#b2dfdb"/>
<rect x="1083" y="749" width="9" height="4" fill="#ef5350"/>
<rect x="1093" y="749" width="9" height="6" fill="#ef5350"/>
<rect x="1103" y="749" width="9" height="12" fill="#ef5350"/>
<rect x="1113" y="749" width="9" height="14" fill="#ef5350"/>
<rect x="1123" y="749" width="8" height="8" fill="#ffcdd2"/>
<rect x="1132" y="749" width="9" height="3" fill="#ffcdd2"/>
<rect x="1142" y="746" width="9" height="4" fill="#26a69a"/>
<rect x="1152" y="746" width="9" height="4" fill="#26a69a"/>
<rect x="1162" y="743" width="9" height="7" fill="#26a69a"/>
<rect x="1172" y="742" width="9" height="8" fill="#26a69a"/>
<rect x="1182" y="746" width="9" height="4" fill="#b2dfdb"/>
<rect x="1192" y="748" width="8" height="2" fill="#b2dfdb"/>
<rect x="1201" y="749" width="9" height="1" fill="#b2dfdb"/>
<rect x="1211" y="749" width="9" height="4" fill="#ef5350"/>
<rect x="1221" y="749" width="9" height="5" fill="#ef5350"/>
<rect x="1231" y="749" width="9" height="6" fill="#ef5350"/>
<rect x="1241" y="749" width="9" height="8" fill="#ef5350"/>
<rect x="1251" y="749" width="8" height="6" fill="#ffcdd2"/>
<rect x="1260" y="749" width="9" height="6" fill="#ffcdd2"/>
<rect x="1270" y="749" width="9" height="2" fill="#ffcdd2"/>
<rect x="1280" y="747" width="9" height="3" fill="#26a69a"/>
<rect x="1290" y="745" width="9" height="5" fill="#26a69a"/>
<rect x="1300" y="743" width="9" height="7" fill="#26a69a"/>
<rect x="1310" y="740" width="9" height="10" fill="#26a69a"/>
<rect x="1320" y="736" width="8" height="14" fill="#26a69a"/>
<rect x="1329" y="732" width="9" height="18" fill="#26a69a"/>
<rect x="1339" y="726" width="9" height="24" fill="#26a69a"/>
<rect x="1349" y="721" width="9" height="29" fill="#26a69a"/>
<rect x="1359" y="721" width="9" height="29" fill="#26a69a"/>
<rect x="1369" y="719" width="9" height="31" fill="#26a69a"/>
<rect x="1379" y="716" width="9" height="34" fill="#26a69a"/>
<rect x="1389" y="717" width="8" height="33" fill="#b2dfdb"/>
<rect x="1398" y="718" width="9" height="32" fill="#b2dfdb"/>
<rect x="1408" y="722" width="9" height="28" fill="#b2dfdb"/>
<rect x="1418" y="726" width="9" height="24" fill="#b2dfdb"/>
<rect x="1428" y="727" width="9" height="23" fill="#b2dfdb"/>
<rect x="1438" y="729" width="9" height="21" fill="#b2dfdb"/>
<rect x="1448" y="734" width="9" height="16" fill="#b2dfdb"/>
<rect x="1458" y="741" width="9" height="9" fill="#b2dfdb"/>
</g>
<polyline points="-6.0,673.5 3.5,673.5 13.5,673.6 23.5,679.4 33.5,684.0 43.5,693.4 53.5,702.2 62.5,706.4 72.5,707.6 82.5,708.9 92.5,710.9 102.5,713.9 112.5,717.6 122.5,718.6 131.5,716.7 141.5,711.6 151.5,705.9 161.5,701.5 171.5,694.9 181.5,689.5 191.5,686.7 200.5,686.2 210.5,688.9 220.5,689.6 230.5,691.7 240.5,690.6 250.5,685.7 260.5,679.8 269.5,676.4 279.5,672.2 289.5,672.2 299.5,682.6 309.5,697.6 319.5,708.1 328.5,706.4 338.5,696.0 348.5,681.3 358.5,674.1 368.5,666.3 378.5,649.6 388.5,638.9 397.5,622.0 407.5,614.8 417.5,620.3 427.5,620.0 437.5,624.1 447.5,626.2 457.5,631.3 466.5,641.3 476.5,655.4 486.5,666.9 496.5,666.8 506.5,657.2 516.5,658.2 526.5,666.1 535.5,671.0 545.5,685.7 555.5,695.9 565.5,712.7 575.5,719.9 585.5,729.1 595.5,733.4 604.5,731.1 614.5,726.8 624.5,725.8 634.5,718.7 644.5,714.9 654.5,717.3 663.5,721.0 673.5,720.5 683.5,723.8 693.5,715.5 703.5,713.5 713.5,709.8 723.5,709.9 732.5,715.7 742.5,718.7 752.5,722.0 762.5,720.2 772.5,714.9 782.5,707.3 792.5,707.6 801.5,707.8 811.5,709.4 821.5,712.9 831.5,714.7 841.5,717.5 851.5,725.0 861.5,729.6 870.5,733.5 880.5,743.5 890.5,747.5 900.5,747.4 910.5,744.4 920.5,746.5 930.5,746.2 939.5,747.1 949.5,750.8 959.5,752.9 969.5,752.8 979.5,749.8 989.5,748.2 998.5,749.4 1008.5,747.7 1018.5,746.1 1028.5,744.1 1038.5,738.6 1048.5,730.3 1058.5,729.9 1067.5,730.3 1077.5,734.7 1087.5,741.0 1097.5,744.9 1107.5,754.7 1117.5,759.0 1127.5,754.1 1136.5,749.4 1146.5,743.1 1156.5,742.3 1166.5,738.0 1176.5,735.2 1186.5,737.7 1196.5,738.9 1205.5,740.3 1215.5,745.1 1225.5,747.3 1235.5,749.6 1245.5,753.1 1255.5,752.4 1264.5,753.1 1274.5,749.6 1284.5,745.3 1294.5,742.6 1304.5,739.2 1314.5,733.8 1324.5,726.4 1333.5,718.6 1343.5,706.6 1353.5,694.3 1363.5,686.1 1373.5,675.4 1383.5,663.9 1393.5,655.9 1402.5,649.7 1412.5,647.3 1422.5,645.9 1432.5,641.6 1442.5,638.8 1452.5,640.0 1462.5,645.4" fill="none" stroke="#1e1e1e" stroke-width="1" stroke-linejoin="round"/>
<polyline points="-6.0,675.0 3.5,675.0 13.5,675.1 23.5,676.1 33.5,677.7 43.5,681.4 53.5,685.2 62.5,689.4 72.5,692.6 82.5,695.9 92.5,698.9 102.5,701.9 112.5,704.6 122.5,707.2 131.5,708.7 141.5,709.6 151.5,708.4 161.5,707.1 171.5,704.5 181.5,701.9 191.5,699.1 200.5,696.6 210.5,695.2 220.5,693.9 230.5,693.5 240.5,693.1 250.5,691.3 260.5,689.4 269.5,686.8 279.5,683.8 289.5,681.8 299.5,681.9 309.5,685.6 319.5,690.1 328.5,692.4 338.5,692.7 348.5,690.9 358.5,687.5 368.5,683.0 378.5,676.2 388.5,668.5 397.5,658.3 407.5,650.0 417.5,644.0 427.5,639.5 437.5,636.5 447.5,634.5 457.5,633.8 466.5,635.0 476.5,639.0 486.5,644.6 496.5,648.6 506.5,650.2 516.5,652.2 526.5,654.7 535.5,657.8 545.5,663.4 555.5,669.9 565.5,678.5 575.5,686.3 585.5,694.9 595.5,702.4 604.5,707.8 614.5,711.6 624.5,714.4 634.5,715.4 644.5,715.7 654.5,716.0 663.5,716.7 673.5,717.5 683.5,718.5 693.5,718.0 703.5,717.0 713.5,715.4 723.5,714.4 732.5,714.4 742.5,715.4 752.5,716.7 762.5,717.2 772.5,716.7 782.5,714.9 792.5,713.2 801.5,712.3 811.5,711.9 821.5,711.6 831.5,712.4 841.5,713.2 851.5,715.6 861.5,718.2 870.5,721.4 880.5,725.3 890.5,729.3 900.5,733.2 910.5,735.3 920.5,737.4 930.5,739.2 939.5,740.8 949.5,742.7 959.5,744.8 969.5,745.8 979.5,746.5 989.5,746.9 998.5,747.1 1008.5,747.1 1018.5,747.1 1028.5,746.1 1038.5,744.9 1048.5,741.9 1058.5,739.5 1067.5,737.9 1077.5,737.2 1087.5,737.7 1097.5,739.6 1107.5,743.3 1117.5,745.8 1127.5,747.1 1136.5,747.1 1146.5,746.6 1156.5,745.8 1166.5,744.3 1176.5,742.6 1186.5,741.2 1196.5,740.7 1205.5,741.0 1215.5,741.8 1225.5,743.0 1235.5,744.3 1245.5,745.8 1255.5,747.1 1264.5,747.8 1274.5,748.3 1284.5,747.8 1294.5,747.1 1304.5,745.8 1314.5,743.4 1324.5,740.1 1333.5,736.3 1343.5,730.4 1353.5,722.9 1363.5,714.7 1373.5,706.0 1383.5,697.5 1393.5,688.8 1402.5,681.3 1412.5,674.9 1422.5,669.4 1432.5,664.1 1442.5,659.3 1452.5,655.7 1462.5,654.0" fill="none" stroke="#f44336" stroke-width="1" stroke-linejoin="round"/>
<g shape-rendering="crispEdges">
<rect x="0" y="593" width="1755" height="1" fill="#e6e6e8"/>
<rect x="1689" y="0" width="1" height="829" fill="#4f5261"/>
<rect x="0" y="801" width="1755" height="1" fill="#4f5261"/>
<rect x="0" y="829" width="1755" height="1" fill="#ececec"/>
</g>
<g transform="translate(1462.5,580.4)"><circle r="9.7" fill="#fff" stroke="#fff" stroke-width="3.4"/><circle r="9.7" fill="#fff" stroke="#9c1fb0" stroke-width="1.5"/><path d="M3.2,-5.3 L-4.1,0.4 L0.1,0.4 L-3.2,5.6 L4.1,-0.4 L-0.1,-0.4 Z" fill="#9c1fb0" stroke="#9c1fb0" stroke-width="0.5" stroke-linejoin="round"/></g>
<text x="1698.2" y="64.0" font-size="12.6" fill="#434651" text-anchor="start" font-weight="normal" font-family="Liberation Sans, sans-serif" textLength="53" lengthAdjust="spacingAndGlyphs" >3,700.000</text>
<text x="1698.2" y="175.0" font-size="12.6" fill="#434651" text-anchor="start" font-weight="normal" font-family="Liberation Sans, sans-serif" textLength="53" lengthAdjust="spacingAndGlyphs" >3,500.000</text>
<text x="1698.2" y="231.0" font-size="12.6" fill="#434651" text-anchor="start" font-weight="normal" font-family="Liberation Sans, sans-serif" textLength="53" lengthAdjust="spacingAndGlyphs" >3,400.000</text>
<text x="1698.2" y="287.0" font-size="12.6" fill="#434651" text-anchor="start" font-weight="normal" font-family="Liberation Sans, sans-serif" textLength="53" lengthAdjust="spacingAndGlyphs" >3,300.000</text>
<text x="1698.2" y="343.0" font-size="12.6" fill="#434651" text-anchor="start" font-weight="normal" font-family="Liberation Sans, sans-serif" textLength="53" lengthAdjust="spacingAndGlyphs" >3,200.000</text>
<text x="1698.2" y="398.0" font-size="12.6" fill="#434651" text-anchor="start" font-weight="normal" font-family="Liberation Sans, sans-serif" textLength="53" lengthAdjust="spacingAndGlyphs" >3,100.000</text>
<text x="1698.2" y="454.0" font-size="12.6" fill="#434651" text-anchor="start" font-weight="normal" font-family="Liberation Sans, sans-serif" textLength="53" lengthAdjust="spacingAndGlyphs" >3,000.000</text>
<text x="1698.2" y="510.0" font-size="12.6" fill="#434651" text-anchor="start" font-weight="normal" font-family="Liberation Sans, sans-serif" textLength="53" lengthAdjust="spacingAndGlyphs" >2,900.000</text>
<text x="1698.2" y="566.0" font-size="12.6" fill="#434651" text-anchor="start" font-weight="normal" font-family="Liberation Sans, sans-serif" textLength="53" lengthAdjust="spacingAndGlyphs" >2,800.000</text>
<text x="1698.2" y="120.3" font-size="12.6" fill="#434651" text-anchor="start" font-weight="normal" font-family="Liberation Sans, sans-serif" textLength="53" lengthAdjust="spacingAndGlyphs" >3,600.000</text>
<rect x="1690" y="88" width="65" height="31" fill="#ef5350" shape-rendering="crispEdges"/>
<text x="1698" y="99.9" font-size="12.1" fill="#fff" text-anchor="start" font-weight="bold" font-family="Liberation Sans, sans-serif" textLength="52.6" lengthAdjust="spacingAndGlyphs" >3,636.885</text>
<text x="1699" y="113.7" font-size="11.8" fill="#fff" text-anchor="start" font-weight="normal" font-family="Liberation Sans, sans-serif" textLength="45.3" lengthAdjust="spacingAndGlyphs" fill-opacity="0.82" stroke="#fff" stroke-width="0.45" stroke-opacity="0.82">13:57:59</text>
<text x="1698.5" y="619" font-size="12.5" fill="#434651" text-anchor="start" font-weight="normal" font-family="Liberation Sans, sans-serif" textLength="41" lengthAdjust="spacingAndGlyphs" >100.000</text>
<text x="1698.5" y="653" font-size="12.5" fill="#434651" text-anchor="start" font-weight="normal" font-family="Liberation Sans, sans-serif" textLength="35" lengthAdjust="spacingAndGlyphs" >75.000</text>
<text x="1698.5" y="686.5" font-size="12.5" fill="#434651" text-anchor="start" font-weight="normal" font-family="Liberation Sans, sans-serif" textLength="35" lengthAdjust="spacingAndGlyphs" >50.000</text>
<text x="1698.5" y="720" font-size="12.5" fill="#434651" text-anchor="start" font-weight="normal" font-family="Liberation Sans, sans-serif" textLength="35" lengthAdjust="spacingAndGlyphs" >25.000</text>
<text x="1698.5" y="753.7" font-size="12.5" fill="#434651" text-anchor="start" font-weight="normal" font-family="Liberation Sans, sans-serif" textLength="29" lengthAdjust="spacingAndGlyphs" >0.000</text>
<text x="1698.5" y="787.5" font-size="12.5" fill="#434651" text-anchor="start" font-weight="normal" font-family="Liberation Sans, sans-serif" textLength="41.5" lengthAdjust="spacingAndGlyphs" >−25.000</text>
<text x="62.5" y="819" font-size="12" fill="#434651" text-anchor="middle" font-weight="normal" font-family="Liberation Sans, sans-serif" stroke="#434651" stroke-width="0.25">Mar</text>
<text x="269.5" y="819" font-size="12" fill="#434651" text-anchor="middle" font-weight="normal" font-family="Liberation Sans, sans-serif" stroke="#434651" stroke-width="0.25">Apr</text>
<text x="476.5" y="819" font-size="12" fill="#434651" text-anchor="middle" font-weight="normal" font-family="Liberation Sans, sans-serif" stroke="#434651" stroke-width="0.25">May</text>
<text x="693.5" y="819" font-size="12" fill="#434651" text-anchor="middle" font-weight="normal" font-family="Liberation Sans, sans-serif" stroke="#434651" stroke-width="0.25">Jun</text>
<text x="900.5" y="819" font-size="12" fill="#434651" text-anchor="middle" font-weight="normal" font-family="Liberation Sans, sans-serif" stroke="#434651" stroke-width="0.25">Jul</text>
<text x="1127.5" y="819" font-size="12" fill="#434651" text-anchor="middle" font-weight="normal" font-family="Liberation Sans, sans-serif" stroke="#434651" stroke-width="0.25">Aug</text>
<text x="1333.5" y="819" font-size="12" fill="#434651" text-anchor="middle" font-weight="normal" font-family="Liberation Sans, sans-serif" stroke="#434651" stroke-width="0.25">Sep</text>
<text x="1550.5" y="819" font-size="12" fill="#434651" text-anchor="middle" font-weight="normal" font-family="Liberation Sans, sans-serif" stroke="#434651" stroke-width="0.25">Oct</text>
<rect x="1693.5" y="1.5" width="62" height="24.5" rx="3.5" fill="#fff" stroke="#ebebeb"/>
<text x="1697.5" y="18" font-size="12.5" fill="#131722" text-anchor="start" font-weight="normal" font-family="Liberation Sans, sans-serif" textLength="20" lengthAdjust="spacingAndGlyphs" >USD</text>
<path d="M1747.1,12.8 L1749.5,15.1 L1751.9,12.8" fill="none" stroke="#131722" stroke-width="1.5"/>
<g transform="translate(1725.5,815.5)" fill="none" stroke="#2a2e39" stroke-width="1.2"><path d="M-7.3,0 L-3.9,-6 L3.9,-6 L7.3,0 L3.9,6 L-3.9,6 Z"/><circle r="2.3"/></g>
<g transform="translate(18,12.9)"><circle r="9.05" fill="#d89e00"/><path d="M-1.6,-4 H1.8 L3.2,-1 H-3.1 Z M-5.1,0.1 H-1.95 L-0.9,3.1 H-7 Z M2,0.1 H5.05 L7.1,3.1 H0.95 Z" fill="#fff"/></g>
<text x="31.6" y="19" font-size="16" fill="#434651" text-anchor="start" font-weight="normal" font-family="Liberation Sans, sans-serif" textLength="110.4" lengthAdjust="spacingAndGlyphs" >OANDA:XAUUSD</text>
<circle cx="149.1" cy="13.8" r="1.35" fill="#434651"/>
<text x="156.3" y="19" font-size="16" fill="#434651" text-anchor="start" font-weight="normal" font-family="Liberation Sans, sans-serif" textLength="16.2" lengthAdjust="spacingAndGlyphs" >1D</text>
<path d="M197,4 H208 V22 H197 A9,9 0 0 1 197,4 Z" fill="#dcf1ed"/>
<path d="M208,4 H219 A9,9 0 0 1 219,22 H208 Z" fill="#f6c9db"/>
<circle cx="199" cy="12.9" r="4" fill="#089981"/>
<path d="M213,11.8 C214.2,10 215.8,10.2 217,11.2 S219.8,12.6 221.1,10.4 M213,15.8 C214.2,14 215.8,14.2 217,15.2 S219.8,16.6 221.1,14.4" fill="none" stroke="#de0f5d" stroke-width="1.4" stroke-linecap="round"/>
<text x="244.5" y="18" font-size="13" fill="#434651" text-anchor="start" font-weight="normal" font-family="Liberation Sans, sans-serif" >O</text>
<text x="255" y="18" font-size="13" fill="#ef5350" text-anchor="start" font-weight="normal" font-family="Liberation Sans, sans-serif" textLength="55.5" lengthAdjust="spacingAndGlyphs" >3,659.625</text>
<text x="318" y="18" font-size="13" fill="#434651" text-anchor="start" font-weight="normal" font-family="Liberation Sans, sans-serif" >H</text>
<text x="327" y="18" font-size="13" fill="#ef5350" text-anchor="start" font-weight="normal" font-family="Liberation Sans, sans-serif" textLength="56.5" lengthAdjust="spacingAndGlyphs" >3,672.125</text>
<text x="391" y="18" font-size="13" fill="#434651" text-anchor="start" font-weight="normal" font-family="Liberation Sans, sans-serif" >L</text>
<text x="397.5" y="18" font-size="13" fill="#ef5350" text-anchor="start" font-weight="normal" font-family="Liberation Sans, sans-serif" textLength="56.5" lengthAdjust="spacingAndGlyphs" >3,634.055</text>
<text x="461.5" y="18" font-size="13" fill="#434651" text-anchor="start" font-weight="normal" font-family="Liberation Sans, sans-serif" >C</text>
<text x="470" y="18" font-size="13" fill="#ef5350" text-anchor="start" font-weight="normal" font-family="Liberation Sans, sans-serif" textLength="56.5" lengthAdjust="spacingAndGlyphs" >3,636.885</text>
<text x="533.7" y="18" font-size="13" fill="#ef5350" text-anchor="start" font-weight="normal" font-family="Liberation Sans, sans-serif" textLength="44.4" lengthAdjust="spacingAndGlyphs" >−23.090</text>
<text x="583.9" y="18" font-size="13" fill="#ef5350" text-anchor="start" font-weight="normal" font-family="Liberation Sans, sans-serif" textLength="47.5" lengthAdjust="spacingAndGlyphs" >(−0.63%)</text>
<rect x="8.5" y="29.5" width="78" height="33" rx="5" fill="#fff" stroke="#f23645" stroke-width="1"/>
<rect x="122.5" y="29.5" width="78" height="33" rx="5" fill="#fff" stroke="#2962ff" stroke-width="1"/>
<text x="19.5" y="43" font-size="13" fill="#f23645" text-anchor="start" font-weight="normal" font-family="Liberation Sans, sans-serif" textLength="50.5" lengthAdjust="spacingAndGlyphs" stroke-width="0.22" stroke="#f23645">3,636.36</text>
<text x="70.8" y="40" font-size="9.5" fill="#f23645" text-anchor="start" font-weight="normal" font-family="Liberation Sans, sans-serif" stroke-width="0.3" stroke="#f23645">0</text>
<text x="47.3" y="57" font-size="11" fill="#f23645" text-anchor="middle" font-weight="normal" font-family="Liberation Sans, sans-serif" textLength="23.3" lengthAdjust="spacingAndGlyphs" >SELL</text>
<text x="134" y="43" font-size="13" fill="#2962ff" text-anchor="start" font-weight="normal" font-family="Liberation Sans, sans-serif" textLength="50.5" lengthAdjust="spacingAndGlyphs" stroke-width="0.22" stroke="#2962ff">3,636.98</text>
<text x="185.3" y="40" font-size="9.5" fill="#2962ff" text-anchor="start" font-weight="normal" font-family="Liberation Sans, sans-serif" stroke-width="0.3" stroke="#2962ff">0</text>
<text x="161.7" y="57" font-size="11" fill="#2962ff" text-anchor="middle" font-weight="normal" font-family="Liberation Sans, sans-serif" textLength="20" lengthAdjust="spacingAndGlyphs" >BUY</text>
<text x="95" y="49.5" font-size="10" fill="#0c0c0c" text-anchor="start" font-weight="normal" font-family="Liberation Sans, sans-serif" textLength="19" lengthAdjust="spacingAndGlyphs" stroke-width="0.25" stroke="#0c0c0c">62.0</text>
<text x="9.2" y="83.5" font-size="13" fill="#434651" text-anchor="start" font-weight="normal" font-family="Liberation Sans, sans-serif" textLength="17" lengthAdjust="spacingAndGlyphs" >Vol</text>
<circle cx="32.9" cy="79.8" r="1.1" fill="#434651"/>
<text x="39.3" y="83.5" font-size="13" fill="#434651" text-anchor="start" font-weight="normal" font-family="Liberation Sans, sans-serif" textLength="28.5" lengthAdjust="spacingAndGlyphs" >Ticks</text>
<text x="77" y="83.5" font-size="13" fill="#ef5350" text-anchor="start" font-weight="normal" font-family="Liberation Sans, sans-serif" textLength="47.5" lengthAdjust="spacingAndGlyphs" >162.91 K</text>
<text x="9" y="108" font-size="13" fill="#434651" text-anchor="start" font-weight="normal" font-family="Liberation Sans, sans-serif" textLength="74" lengthAdjust="spacingAndGlyphs" >EMA 20 close</text>
<text x="91" y="108" font-size="13" fill="#4caf50" text-anchor="start" font-weight="normal" font-family="Liberation Sans, sans-serif" textLength="57" lengthAdjust="spacingAndGlyphs" >3,565.846</text>
<rect x="8.5" y="119.5" width="28" height="19" rx="3" fill="#fff" stroke="#e0e3eb"/>
<path d="M19,130.5 l3.5,-3.5 l3.5,3.5" fill="none" stroke="#131722" stroke-width="1.3"/>
<text x="9" y="614.5" font-size="12.6" fill="#434651" text-anchor="start" font-weight="normal" font-family="Liberation Sans, sans-serif" textLength="111" lengthAdjust="spacingAndGlyphs" >MACD 12 26 close 9</text>
<g transform="translate(137,610)"><circle r="9" fill="#e8deff"/><path d="M-5,-1.2 A5.2,5.2 0 0 1 4.6,-2.6 M5,1.2 A5.2,5.2 0 0 1 -4.6,2.6" fill="none" stroke="#661fff" stroke-width="1.8"/><path d="M6.8,-3.4 L5.6,0.6 L2.4,-2 Z M-6.8,3.4 L-5.6,-0.6 L-2.4,2 Z" fill="#661fff"/></g>
<text x="155" y="614.5" font-size="12.6" fill="#a5dbd6" text-anchor="start" font-weight="normal" font-family="Liberation Sans, sans-serif" textLength="31" lengthAdjust="spacingAndGlyphs" stroke="#a5dbd6" stroke-width="0.3">5.979</text>
<text x="193" y="614.5" font-size="12.6" fill="#131722" text-anchor="start" font-weight="normal" font-family="Liberation Sans, sans-serif" textLength="38" lengthAdjust="spacingAndGlyphs" >76.589</text>
<text x="237.5" y="614.5" font-size="12.6" fill="#f44336" text-anchor="start" font-weight="normal" font-family="Liberation Sans, sans-serif" textLength="38.5" lengthAdjust="spacingAndGlyphs" >70.610</text>
<g fill="#fff" stroke="#fff" stroke-width="3" stroke-linejoin="round"><path d="M11.8,772 H23.7 V786.7 H17.8 V778 H11.8 Z"/><circle cx="28.9" cy="775.2" r="3"/><path d="M33.4,772 H41.9 L36.7,786.7 H28.9 Z"/></g>
<text x="49.2" y="786.7" font-size="20.4" fill="#fff" text-anchor="start" font-weight="bold" font-family="Liberation Sans, sans-serif" textLength="120.3" lengthAdjust="spacingAndGlyphs" stroke="#fff" stroke-width="3" stroke-linejoin="round">TradingView</text>
<g fill="#131313"><path d="M11.8,772 H23.7 V786.7 H17.8 V778 H11.8 Z"/><circle cx="28.9" cy="775.2" r="3"/><path d="M33.4,772 H41.9 L36.7,786.7 H28.9 Z"/></g>
<text x="49.2" y="786.7" font-size="20.4" fill="#131313" text-anchor="start" font-weight="bold" font-family="Liberation Sans, sans-serif" textLength="120.3" lengthAdjust="spacingAndGlyphs" >TradingView</text>
</svg>
</body></html>
